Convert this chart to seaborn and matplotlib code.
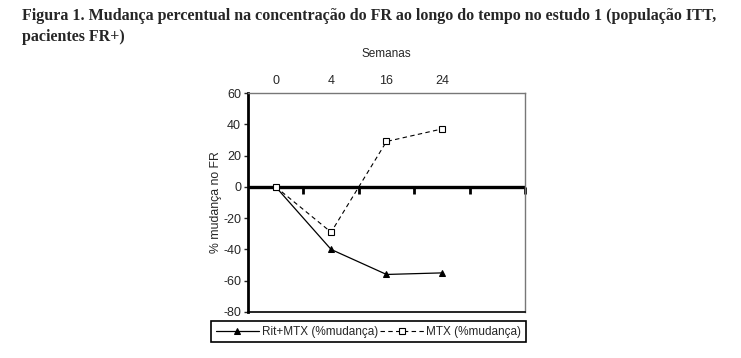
import numpy as np
import pandas as pd
import seaborn as sns
import matplotlib.pyplot as plt

# dati
settimane = ["0", "4", "16", "24"]
rit_mtx = [0, -40, -56, -55]
mtx = [0, -29, 29, 37]
serie_nomi = ["Rit+MTX (%mudança)", "MTX (%mudança)"]

sns.set_style("white")
plt.rcParams["font.family"] = ["Liberation Sans", "DejaVu Sans"]
plt.rcParams["axes.unicode_minus"] = False

pos = np.arange(len(settimane))
df = pd.DataFrame({
    "pos": np.concatenate([pos, pos]),
    "valore": rit_mtx + mtx,
    "serie": [serie_nomi[0]] * len(pos) + [serie_nomi[1]] * len(pos),
})

fig = plt.figure(figsize=(7.41, 3.58), dpi=100)
ax = fig.add_axes([248 / 741, 1 - 312 / 358, (525 - 248) / 741, (312 - 93) / 358])

# linea dello zero con tacche ai confini delle categorie
ax.axhline(0, color="black", lw=2.4, zorder=1)
asse0 = ax.secondary_xaxis(80 / 140)
asse0.set_xticks(np.arange(len(settimane) + 1) + 0.5)
asse0.set_xticklabels([])
asse0.tick_params(axis="x", direction="in", length=5, width=2, color="black")
for sp in asse0.spines.values():
    sp.set_visible(False)

sns.lineplot(data=df[df["serie"] == serie_nomi[0]], x="pos", y="valore", ax=ax,
             color="black", lw=0.9, marker="^", markersize=5,
             markerfacecolor="black", markeredgecolor="black",
             label=serie_nomi[0], zorder=3)
sns.lineplot(data=df[df["serie"] == serie_nomi[1]], x="pos", y="valore", ax=ax,
             color="black", lw=0.8, linestyle=(0, (4, 3)), marker="s", markersize=5,
             markerfacecolor="white", markeredgecolor="black", markeredgewidth=0.8,
             label=serie_nomi[1], zorder=3)

ax.set_xlim(-0.5, len(settimane) + 0.5)
ax.set_ylim(-80, 60)
ax.set_yticks(np.arange(-80, 61, 20))
ax.tick_params(axis="y", labelsize=9, length=3, direction="out", left=True, width=1, pad=2)

# etichette in alto
ax.xaxis.tick_top()
ax.xaxis.set_label_position("top")
ax.set_xticks(pos)
ax.set_xticklabels(settimane, fontsize=9)
ax.tick_params(axis="x", length=0, pad=4)
ax.set_xlabel("Semanas", fontsize=8.5, labelpad=13)
ax.set_ylabel("% mudança no FR", fontsize=8.8, labelpad=1)

for lato in ["top", "right"]:
    ax.spines[lato].set_color("#777777")
    ax.spines[lato].set_linewidth(1)
ax.spines["left"].set_color("black")
ax.spines["left"].set_linewidth(2)
ax.spines["bottom"].set_color("black")
ax.spines["bottom"].set_linewidth(1.2)

ax.legend(loc="upper right", bbox_to_anchor=(526 / 741, 1 - 321 / 358),
          bbox_transform=fig.transFigure, ncol=2, fontsize=8.5,
          handlelength=3.7, columnspacing=0.2, handletextpad=0.2,
          borderpad=0.4, borderaxespad=0, fancybox=False, framealpha=1,
          edgecolor="black")
ax.get_legend().get_frame().set_linewidth(1.2)

fig.text(22 / 741, 1 - 8 / 358,
         "Figura 1. Mudança percentual na concentração do FR ao longo do tempo no estudo 1 (população ITT,\npacientes FR+)",
         ha="left", va="top", fontsize=11.5, fontweight="bold",
         family=["Liberation Serif", "DejaVu Serif"], linespacing=1.45)

fig.savefig("out.png", dpi=100)
